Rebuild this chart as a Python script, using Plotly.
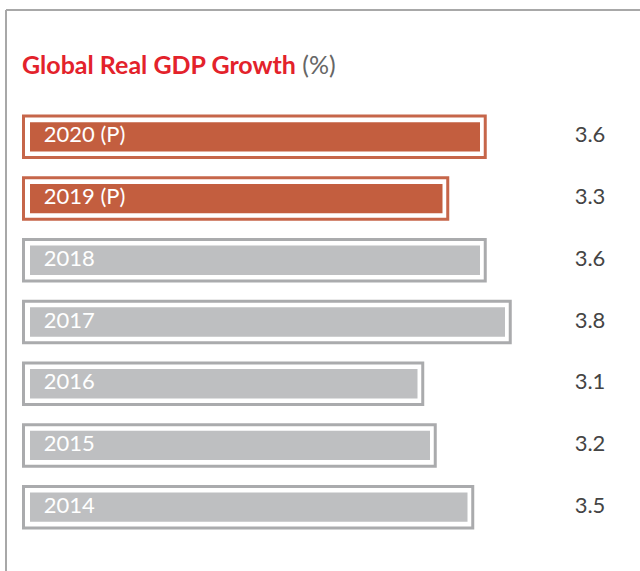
import plotly.graph_objects as go

years = ["2020 (P)", "2019 (P)", "2018", "2017", "2016", "2015", "2014"]
growth = [3.6, 3.3, 3.6, 3.8, 3.1, 3.2, 3.5]
projected = [True, True, False, False, False, False, False]

title_main = "Global Real GDP Growth"
title_unit = "(%)"

ORANGE_FILL = "#C35E3F"
ORANGE_LINE = "#C6664A"
GRAY_FILL = "#BEBFC1"
GRAY_LINE = "#AAABAD"

fill_colors = [ORANGE_FILL if p else GRAY_FILL for p in projected]
line_colors = [ORANGE_LINE if p else GRAY_LINE for p in projected]

W, H = 640, 571
PX_PER_UNIT = 125.0
X0_PX = 30
M_T, M_B = 106, 33
plot_h = H - M_T - M_B

pad_left = 0.052
pad_right = 0.042

fig = go.Figure()

# outer framing bars
fig.add_trace(go.Bar(
    y=years, x=[v + pad_left + pad_right for v in growth], base=[-pad_left] * len(growth),
    orientation="h", width=0.672,
    marker=dict(color="white", line=dict(color=line_colors, width=3)),
    hoverinfo="skip", showlegend=False,
))
# inner filled bars
fig.add_trace(go.Bar(
    y=years, x=growth, orientation="h", width=0.476,
    marker=dict(color=fill_colors, line=dict(width=0)),
    showlegend=False,
))

# labels inside bars
fig.add_trace(go.Scatter(
    y=years, x=[0.11] * len(years), mode="text", text=years,
    textposition="middle right",
    textfont=dict(family="Lato", size=22, color="white"),
    hoverinfo="skip", showlegend=False,
))
# values column
fig.add_trace(go.Scatter(
    y=years, x=[4.48] * len(years), mode="text", text=[f"{v:.1f}" for v in growth],
    textposition="middle center",
    textfont=dict(family="Lato", size=22, color="#444444"),
    hoverinfo="skip", showlegend=False,
))

def py(px):
    return (H - M_B - px) / plot_h

fig.add_annotation(
    xref="paper", yref="paper", x=20 / W, y=py(64), xanchor="left", yanchor="middle",
    showarrow=False,
    text=f"<b>{title_main}</b> <span style='color:#666666'>{title_unit}</span>",
    font=dict(family="Lato", size=25, color="#E3222B"),
)

# frame lines
fig.add_shape(type="line", xref="paper", yref="paper", x0=6 / W, x1=1.0, y0=py(10), y1=py(10),
              line=dict(color="#A8A8A8", width=2))
fig.add_shape(type="line", xref="paper", yref="paper", x0=6 / W, x1=6 / W, y0=py(10), y1=py(H + 5),
              line=dict(color="#A8A8A8", width=2))

fig.update_layout(
    width=W, height=H, barmode="overlay",
    margin=dict(l=0, r=0, t=M_T, b=M_B),
    paper_bgcolor="white", plot_bgcolor="white",
    xaxis=dict(range=[-X0_PX / PX_PER_UNIT, (W - X0_PX) / PX_PER_UNIT], visible=False, fixedrange=True),
    yaxis=dict(categoryorder="array", categoryarray=years, autorange="reversed",
               visible=False, fixedrange=True),
)

fig.write_html("out.html", config={"displayModeBar": False},
               post_script="document.body.style.margin='0';document.body.style.overflow='hidden';")
